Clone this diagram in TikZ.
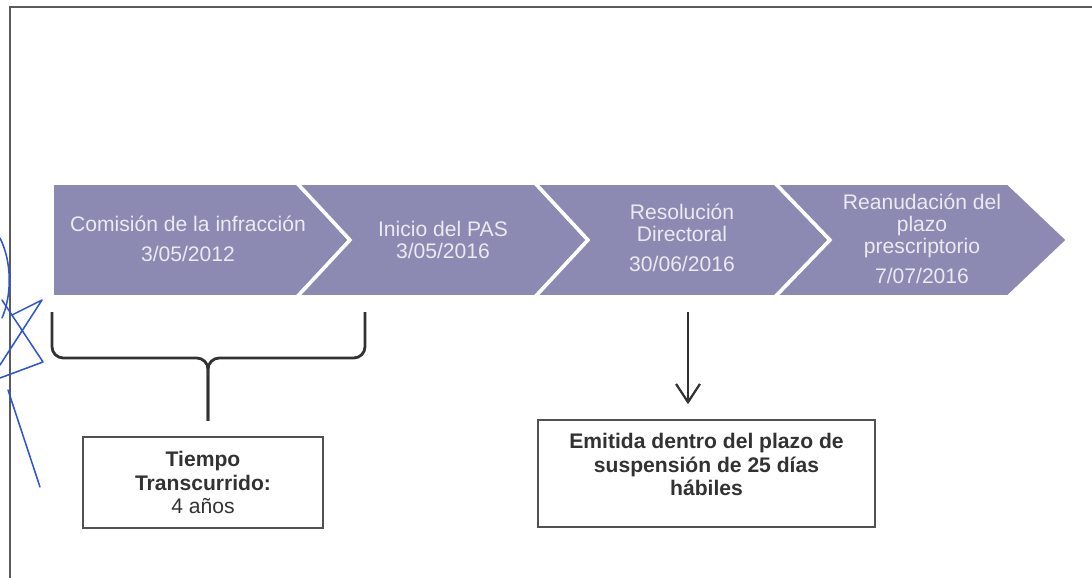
\documentclass[tikz,border=0pt]{standalone}
\usepackage{fontspec}
\setmainfont{Liberation Sans}
\usetikzlibrary{arrows.meta}
\definecolor{chev}{RGB}{140,138,178}
\definecolor{chevtxt}{RGB}{234,234,240}
\definecolor{ink}{RGB}{50,50,50}
\definecolor{pen}{RGB}{45,85,215}
\tikzset{
  chevron/.style={fill=chev, draw=white, line width=2.5pt, line join=miter},
  chevtext/.style={text=chevtxt, align=center, font=\fontsize{15}{15.6}\selectfont},
  notebox/.style={draw=ink!85, line width=1.4pt, text=ink, align=center, font=\fontsize{15}{17}\selectfont\bfseries},
  brace/.style={draw=ink, line width=2pt, rounded corners=8pt},
  scribble/.style={draw=pen, line width=1.1pt, line cap=round, line join=round}
}
\begin{document}
\begin{tikzpicture}[x=0.025cm, y=-0.025cm]
      \useasboundingbox (0,0) rectangle (1092,578);
      \draw[ink!80, line width=1.9pt] (10,578) -- (10,7) -- (1092,7);

      % chevrons
      \draw[chevron] (52,183) -- (297,183) -- (350,240) -- (297,297) -- (52,297) -- cycle;
      \draw[chevron] (297,183) -- (535,183) -- (588,240) -- (535,297) -- (297,297) -- (350,240) -- cycle;
      \draw[chevron] (535,183) -- (775,183) -- (830,240) -- (775,297) -- (535,297) -- (588,240) -- cycle;
      \draw[chevron] (775,183) -- (1008,183) -- (1068,240) -- (1008,297) -- (775,297) -- (830,240) -- cycle;

      \draw (188,239) node[chevtext] (comision) {Comisión de la infracción\\[5.7pt]3/05/2012};
      \draw (443,240) node[chevtext] (inicio) {Inicio del PAS\\3/05/2016};
      \draw (682,238) node[chevtext] (resol) {Resolución\\Directoral\\[5.7pt]30/06/2016};
      \draw (922,238.5) node[chevtext] (reanud) {Reanudación del\\plazo\\prescriptorio\\[5.7pt]7/07/2016};

      % boxes
      \draw (203,482.5) node[notebox, minimum width=170.7pt, minimum height=64.7pt] (tiempo) {Tiempo\\Transcurrido:\\{\mdseries 4 años}};
      \draw (706.5,473.5) node[notebox, minimum width=239.7pt, minimum height=76.1pt, text depth=13pt] (emitida) {Emitida dentro del plazo de\\suspensión de 25 días\\hábiles};

      % brace and arrow
      \coordinate (bl) at (52,312);
      \coordinate (br) at (365,312);
      \coordinate (bm) at (208,358);
      \coordinate (rd) at (688,312);
      \draw[brace, shorten >=10.7pt] (bl) -- (bl |- bm) -- (bm) -- (bm |- tiempo.north);
      \draw[brace, shorten >=10.7pt] (br) -- (br |- bm) -- (bm) -- (bm |- tiempo.north);
      \draw[ink, line width=1.6pt, shorten >=10.5pt, -{Straight Barb[length=13pt,width=17pt]}] (rd) -- (rd |- emitida.north);

      % pen marks
      \draw[scribble] (0,238) .. controls (12,262) and (12,295) .. (2,318);
      \draw[scribble] (12,315) -- (42,300) -- (0,365);
      \draw[scribble] (2,300) -- (43,362) -- (0,378);
      \draw[scribble] (8,390) -- (40,487);
    \end{tikzpicture}
\end{document}
